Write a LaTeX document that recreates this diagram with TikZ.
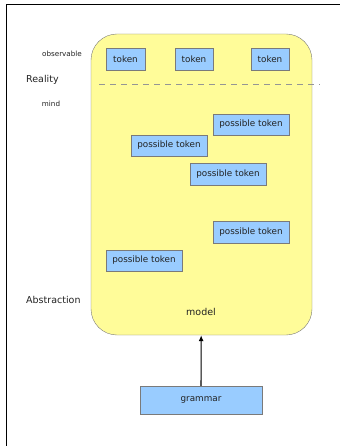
\documentclass[tikz,border=0pt]{standalone}
\usepackage{fontspec}
\setmainfont{DejaVu Sans}
\usetikzlibrary{arrows.meta}
\definecolor{yel}{HTML}{FFFC99}
\definecolor{blu}{HTML}{99CCFF}
\definecolor{bord}{HTML}{7A7A7A}
\definecolor{txt}{HTML}{222222}
\tikzset{
  tok/.style={draw=bord, fill=blu, minimum height=22pt, inner sep=0pt, font=\fontsize{8.8}{10}\selectfont, text=txt},
  ptok/.style={tok, minimum width=76pt, minimum height=21.5pt},
  lab/.style={font=\fontsize{9.5}{11}\selectfont, text=txt, inner sep=0pt},
  slab/.style={font=\fontsize{7.2}{8}\selectfont, text=txt, inner sep=0pt},
}
\begin{document}
\begin{tikzpicture}[x=1pt,y=-1pt]
\useasboundingbox (0,0) rectangle (340,446);
\draw[black, line width=0.8pt] (6,446) -- (6,4.5) -- (340,4.5);
\node[draw=bord, fill=yel, rounded corners=26pt, minimum width=221pt, minimum height=301pt, inner sep=0pt] (modelbox) at (201.5,184.5) {};
\coordinate (d1) at (99,84);
\coordinate (d2) at (320,84);
\draw[bord!80, dash pattern=on 6pt off 5pt, line width=0.6pt] (d1) -- (d2);
\node[tok, minimum width=39pt] (t1) at (125.5,59) {token};
\node[tok, minimum width=38pt] (t2) at (194,59) {token};
\node[tok, minimum width=38pt] (t3) at (270,59) {token};
\node[ptok] (p1) at (251,124.5) {possible token};
\node[ptok] (p2) at (169,145.5) {possible token};
\node[ptok] (p3) at (228,174) {possible token};
\node[ptok] (p4) at (251,232) {possible token};
\node[ptok] (p5) at (144,260.5) {possible token};
\node[lab] (model) at (201,312) {model};
\node[tok, minimum width=122pt, minimum height=28pt] (grammar) at (201,400) {grammar};
\draw[-{Latex[length=6pt,width=5pt]}, line width=1.1pt] (grammar) -- (modelbox);
\node[slab] (obs) at (62,54) {observable};
\node[lab, anchor=west] (real) at (26,80) {Reality};
\node[slab] (mind) at (51,104) {mind};
\node[lab, anchor=west] (abs) at (26,300) {Abstraction};
\end{tikzpicture}
\end{document}
